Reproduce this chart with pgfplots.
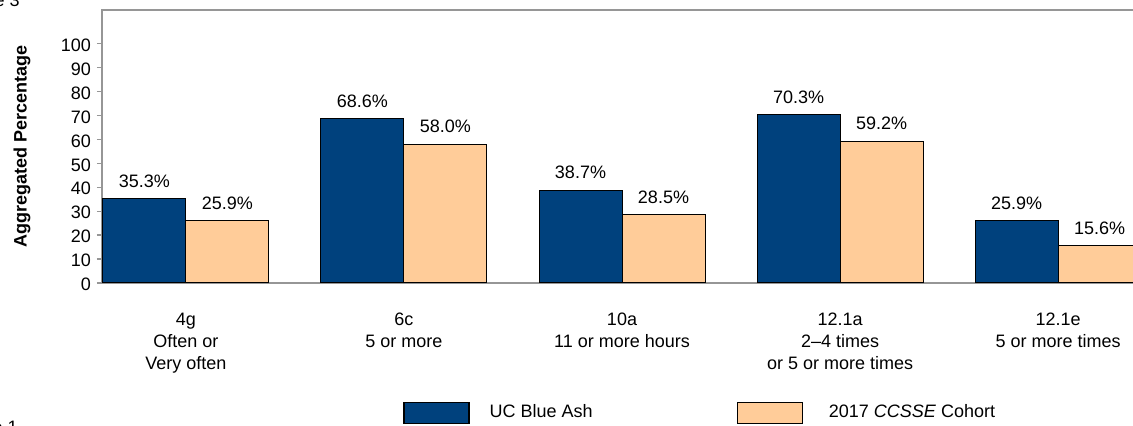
\documentclass[border=0pt]{standalone}
\usepackage{pgfplots}
\pgfplotsset{compat=1.18}
\usepackage{fontspec}
\setmainfont{Liberation Sans}
\definecolor{ucblue}{RGB}{0,65,125}
\definecolor{peach}{RGB}{255,204,153}
\definecolor{framegray}{RGB}{150,150,150}
\pgfkeys{/pgf/number format/assume math mode=true}
\begin{document}
\begin{tikzpicture}
\begin{axis}[
  at={(0,0)}, anchor=south west,
  scale only axis,
  width=520pt, height=136.5pt,
  xmin=-0.385, xmax=4.385,
  ymin=0, ymax=114,
  ybar, bar width=41.5pt,
  every axis plot/.append style={draw=black, line width=0.5pt},
  axis line style={framegray, line width=0.6pt},
  ytick={0,10,...,100},
  ytick pos=left,
  tick align=outside,
  major tick length=2.5pt,
  ytick style={framegray, line width=0.6pt},
  xtick={0,1,2,3,4},
  xtick style={draw=none},
  xticklabels={{4g\\Often or\\Very often},{6c\\5 or more},{10a\\11 or more hours},{12.1a\\2--4 times\\or 5 or more times},{12.1e\\5 or more times}},
  xticklabel style={align=center, font=\fontsize{9}{11}\selectfont, yshift=-9pt},
  yticklabel style={font=\fontsize{9}{11}\selectfont, xshift=0.5pt, yshift=-0.8pt},
  ylabel={\textbf{Aggregated Percentage}},
  y label style={at={(axis description cs:-0.0768,0.50)}, anchor=center, font=\fontsize{9}{11}\selectfont},
  nodes near coords={\pgfmathprintnumber[fixed,fixed zerofill,precision=1]{\pgfplotspointmeta}\%},
  every node near coord/.append style={font=\fontsize{9}{11}\selectfont, black, yshift=2pt},
  clip=true,
  legend columns=2,
  legend style={at={(axis description cs:0.2894,-0.475)}, anchor=west, draw=none, fill=none, inner sep=0pt,
    font=\fontsize{9}{11}\selectfont,
    /tikz/every even column/.append style={column sep=70pt}},
  legend cell align=left,
  legend image code/.code={\draw[#1, line width=0.6pt] (0pt,-5.25pt) rectangle (32.5pt,5.25pt);},
]
\addplot[fill=ucblue, bar shift=-20.75pt] coordinates {(0,35.3) (1,68.6) (2,38.7) (3,70.3) (4,25.9)};
\addplot[fill=peach, bar shift=20.75pt] coordinates {(0,25.9) (1,58.0) (2,28.5) (3,59.2) (4,15.6)};
\legend{\hspace{8pt}UC Blue Ash, \hspace{11pt}2017 \textit{CCSSE} Cohort}
\end{axis}
\node[anchor=base east, font=\fontsize{9}{11}\selectfont, inner sep=0pt] at (-41pt,138pt) {Figure 3};
\node[anchor=north east, font=\fontsize{9}{11}\selectfont, inner sep=0pt] at (-42pt,-68.5pt) {Figure 1};
\pgfresetboundingbox
\path[use as bounding box] (-51pt,-71.5pt) rectangle (515.5pt,141.5pt);
\end{tikzpicture}
\end{document}
